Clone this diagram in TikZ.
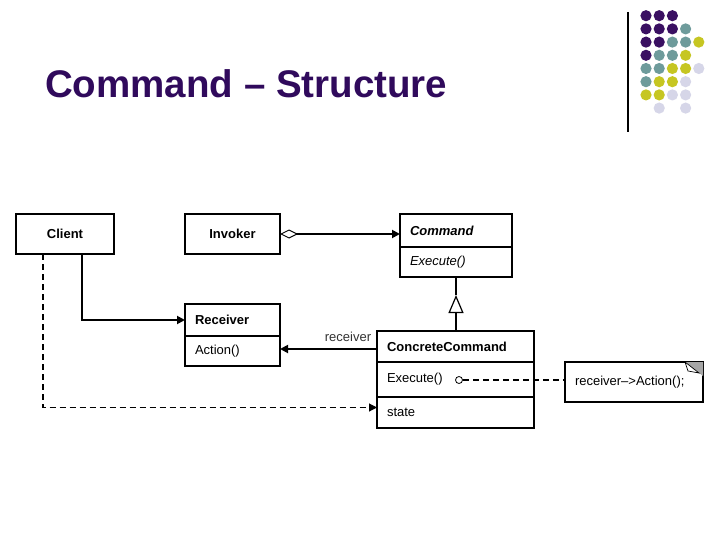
\documentclass[tikz,border=0pt]{standalone}
\usepackage{fontspec}
\setmainfont{Liberation Sans}
\usetikzlibrary{arrows.meta,calc}
\definecolor{slidepurple}{RGB}{48,10,92}
\definecolor{dotpurple}{RGB}{58,16,98}
\definecolor{dotteal}{RGB}{110,155,155}
\definecolor{dotyellow}{RGB}{198,198,34}
\definecolor{dotlilac}{RGB}{214,214,232}
\tikzset{
  cls/.style={draw, line width=1.5pt, anchor=north west, inner sep=0pt, outer sep=0pt,
    font=\fontsize{13}{15}\selectfont\bfseries},
  part/.style={draw, line width=1.5pt, anchor=north west, inner xsep=10pt, inner ysep=0pt,
    outer sep=0pt, align=left, font=\fontsize{13}{15}\selectfont},
  hdr/.style={part, font=\fontsize{13}{15}\selectfont\bfseries},
  assoc/.style={line width=1.8pt, -{Triangle[length=8pt,width=8pt]}},
  dep/.style={line width=1.1pt, dash pattern=on 6pt off 4pt},
}
\begin{document}
\begin{tikzpicture}[x=1pt,y=-1pt]
  \fill[white] (0,0) rectangle (720,540);
  \useasboundingbox (0,0) rectangle (720,540);
  % title and logo
  \node[anchor=base west, inner sep=0pt, text=slidepurple,
        font=\fontsize{38.5}{44}\selectfont\bfseries] (title) at (45,98) {Command – Structure};
  \draw[line width=1.2pt] (628,12) -- (628,132);
  \foreach \r/\c/\col in {0/0/dotpurple,0/1/dotpurple,0/2/dotpurple,
      1/0/dotpurple,1/1/dotpurple,1/2/dotpurple,1/3/dotteal,
      2/0/dotpurple,2/1/dotpurple,2/2/dotteal,2/3/dotteal,2/4/dotyellow,
      3/0/dotpurple,3/1/dotteal,3/2/dotteal,3/3/dotyellow,
      4/0/dotteal,4/1/dotteal,4/2/dotyellow,4/3/dotyellow,4/4/dotlilac,
      5/0/dotteal,5/1/dotyellow,5/2/dotyellow,5/3/dotlilac,
      6/0/dotyellow,6/1/dotyellow,6/2/dotlilac,6/3/dotlilac,
      7/1/dotlilac,7/3/dotlilac}
    \fill[\col] ({646+13.2*\c},{15.7+13.2*\r}) circle[radius=5.6pt];

  % classes
  \node[cls, minimum width=98pt, minimum height=40pt] (client) at (16,214) {Client};
  \node[cls, minimum width=95pt, minimum height=40pt] (invoker) at (185,214) {Invoker};
  \node[hdr, text width=92pt, minimum height=33pt,
        font=\fontsize{13}{15}\selectfont\bfseries\itshape] (cmdh) at (400,214) {Command};
  \node[part, text width=92pt, minimum height=30pt,
        font=\fontsize{13}{15}\selectfont\itshape] (cmdc) at (cmdh.south west) {Execute()};
  \node[hdr, text width=75pt, minimum height=32pt] (rcvh) at (185,304) {Receiver};
  \node[part, text width=75pt, minimum height=30pt] (rcvc) at (rcvh.south west) {Action()};
  \node[hdr, text width=137pt, minimum height=31pt] (cch) at (377,331) {ConcreteCommand};
  \node[part, text width=137pt, minimum height=35pt] (cce) at (cch.south west) {Execute()};
  \node[part, text width=137pt, minimum height=31pt] (ccs) at (cce.south west) {state};
  \node[part, line width=1.2pt, text width=118pt, minimum height=40pt] (note) at (565,362) {receiver–>Action();};
  \fill[gray!70] ($(note.north east)+(-18,0)$) -- (note.north east) -- ($(note.north east)+(0,14)$) -- cycle;
  \filldraw[fill=white, line width=0.7pt] ($(note.north east)+(-18,0)$) -- ($(note.north east)+(-15,9)$)
    -- ($(note.north east)+(-4,11)$) -- cycle;

  % connectors
  \draw[line width=1.8pt, {Diamond[open,length=18pt,width=9pt,line width=1pt]}-{Triangle[length=8pt,width=8pt]}]
    (invoker.east) -- (invoker.east -| cmdh.west);
  \draw[assoc] ([xshift=17pt]client.south) |- (rcvh.west);
  \coordinate (ccrcv) at ([yshift=-2.5pt]cch.west);
  \draw[assoc] (ccrcv) -- (ccrcv -| rcvc.east);
  \node[font=\fontsize{13}{15}\selectfont, text=black!80, inner sep=0pt] (rlabel) at (348,337) {receiver};
  \coordinate (gtip) at ([yshift=-18pt]cmdc.south);
  \draw[line width=1.8pt, -{Triangle[open,length=18pt,width=15pt,line width=1.2pt]}] (cch.north -| gtip) -- (gtip);
  \draw[line width=1.8pt] (gtip) -- (cmdc.south);
  \draw[dep, -{Triangle[length=8pt,width=8pt]}] ([xshift=-22pt]client.south) |- ([yshift=5pt]ccs.west);
  \node[circle, draw, line width=0.8pt, inner sep=0pt, minimum size=7pt] (hook) at (459,380) {};
  \draw[dep] (hook.east) -- (hook.east -| note.west);
\end{tikzpicture}
\end{document}
